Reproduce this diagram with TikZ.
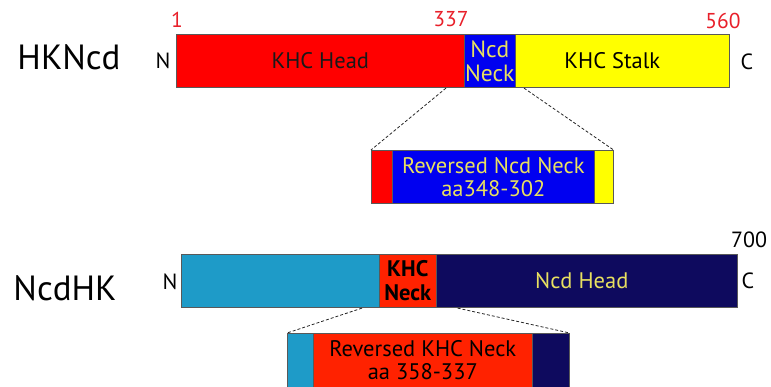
\documentclass[tikz,border=0pt]{standalone}
\usepackage{fontspec}
\setmainfont{PT Sans}
\usetikzlibrary{calc}
\definecolor{cred}{HTML}{FF0000}
\definecolor{cred2}{HTML}{FF2200}
\definecolor{cblue}{HTML}{0000F0}
\definecolor{cyel}{HTML}{FFFF00}
\definecolor{ccyan}{HTML}{1E9BC8}
\definecolor{cnavy}{HTML}{0E0A5E}
\definecolor{ytext}{HTML}{E8E060}
\definecolor{numred}{HTML}{E8202A}
\begin{document}
\begin{tikzpicture}[x=1pt,y=-1pt,
  seg/.style={draw=black!65, line width=0.6pt, inner sep=0pt, anchor=north west, minimum height=53.5pt, align=center, font=\fontsize{22.5}{23}\selectfont},
  lbl/.style={inner sep=0pt, font=\fontsize{22}{24}\selectfont},
  ttl/.style={inner sep=0pt, font=\fontsize{35}{38}\selectfont},
  num/.style={inner sep=0pt, text=numred, font=\fontsize{21.5}{23}\selectfont},
  zoomline/.style={densely dashed, line width=0.8pt, black!85}]
\useasboundingbox (0,0) rectangle (771,387);
% HKNcd
\node[ttl] (t1) at (69,57) {HKNcd};
\node[seg, fill=cred, minimum width=288pt, text=black!90] (head) at (176,34) {KHC Head};
\node[seg, fill=cblue, minimum width=51pt, text=ytext, font=\fontsize{23.5}{24}\selectfont] (neck) at (464,34) {Ncd\\Neck};
\node[seg, fill=cyel, minimum width=214pt] (stalk) at (515,34) {\hspace*{-20pt}KHC Stalk};
\node[lbl] (n1) at (163,61) {N};
\node[lbl] (c1) at (747,62) {C};
\node[num] (p1) at (177,19.5) {1};
\node[num] (p337) at (451,19.5) {337};
\node[num] (p560) at (723,21) {560};
% inset 1
\node[seg, fill=cred, minimum width=21pt] (i1a) at (371,150) {};
\node[seg, fill=cblue, minimum width=202pt, text=ytext] (i1b) at (392,150) {Reversed Ncd Neck\\aa348-302};
\node[seg, fill=cyel, minimum width=19pt] (i1c) at (594,150) {};
\draw[zoomline] ($(neck.south west)+(-18,0)$) -- (i1a.north west);
\draw[zoomline] ($(stalk.south west)+(9,0)$) -- (i1c.north east);
% NcdHK
\node[ttl] (t2) at (65,288) {NcdHK};
\node[seg, fill=ccyan, minimum width=198pt] (nh) at (181,254) {};
\node[seg, fill=cred2, minimum width=57pt, font=\bfseries\fontsize{22.5}{24}\selectfont] (kn) at (379,254) {KHC\\Neck};
\node[seg, fill=cnavy, minimum width=301pt, text=ytext] (nhead) at (436,254) {\hspace*{-10pt}Ncd Head};
\node[lbl] (n2) at (170,282) {N};
\node[lbl] (c2) at (748,281) {C};
\node[lbl] (p700) at (749,240) {700};
% inset 2
\node[seg, fill=ccyan, minimum width=26pt] (i2a) at (287,333) {};
\node[seg, fill=cred2, minimum width=219pt] (i2b) at (313,333) {Reversed KHC Neck\\aa 358-337};
\node[seg, fill=cnavy, minimum width=37pt] (i2c) at (532,333) {};
\draw[zoomline] ($(kn.south west)+(-17,0)$) -- (i2a.north west);
\draw[zoomline] ($(kn.south east)+(21,0)$) -- (i2c.north east);
\end{tikzpicture}
\end{document}
